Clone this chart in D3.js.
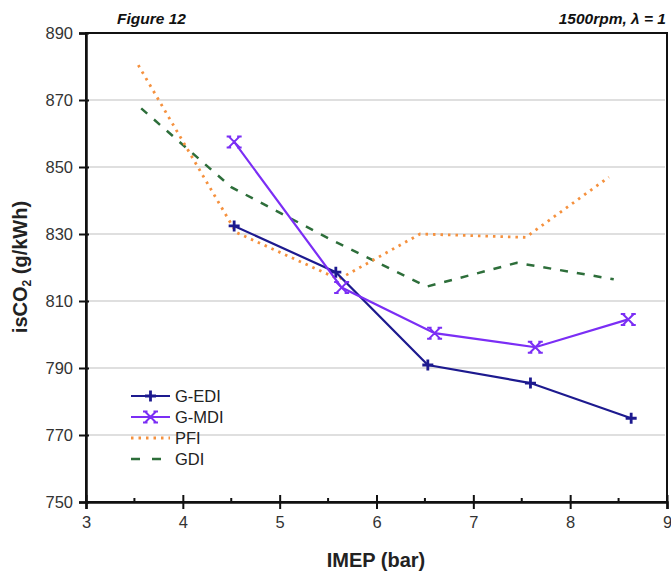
<!DOCTYPE html>
<html>
<head>
<meta charset="utf-8">
<script src="https://cdn.jsdelivr.net/npm/d3@7"></script>
<style>
  body { margin: 0; background: #fff; }
  svg text { font-family: Arial, "Liberation Sans", sans-serif; }
</style>
</head>
<body>
<div id="container"></div>
<script>
// data
const ediX = [4.53, 5.58, 6.53, 7.59, 8.63];
const ediY = [832.4, 818.6, 790.9, 785.5, 775.0];
const mdiX = [4.53, 5.64, 6.60, 7.64, 8.60];
const mdiY = [857.5, 814.0, 800.4, 796.2, 804.5];
const pfiX = [3.54, 4.55, 5.61, 6.45, 7.54, 8.40];
const pfiY = [880.4, 830.5, 816.5, 830.0, 829.0, 847.0];
const gdiX = [3.57, 4.50, 5.55, 6.52, 7.45, 8.45];
const gdiY = [867.5, 844.0, 828.0, 814.3, 821.4, 816.5];
const yTicks = [750, 770, 790, 810, 830, 850, 870, 890];
const xTicks = [3, 4, 5, 6, 7, 8, 9];
const xMinor = [3.5, 4.5, 5.5, 6.5, 7.5, 8.5];

const w = 671, h = 572;
const padLeft = 86, padRight = 667, padTop = 33, padBottom = 502;

const svg = d3.select('#container').append('svg')
    .attr('width', w)
    .attr('height', h);

const xScale = d3.scaleLinear().domain([3, 9]).range([padLeft, padRight]);
const yScale = d3.scaleLinear().domain([750, 890]).range([padBottom, padTop]);

// grid
svg.append('g')
    .selectAll('line')
    .data(yTicks.filter(d => d > 750 && d < 890))
    .enter()
    .append('line')
    .attr('x1', padLeft + 2)
    .attr('x2', padRight - 2)
    .attr('y1', d => yScale(d))
    .attr('y2', d => yScale(d))
    .attr('stroke', '#d4d4d4')
    .attr('stroke-width', 1.5);

// frame
svg.append('rect')
    .attr('x', padLeft)
    .attr('y', padTop)
    .attr('width', padRight - padLeft)
    .attr('height', padBottom - padTop)
    .attr('fill', 'none')
    .attr('stroke', '#111')
    .attr('stroke-width', 2);

// y axis
const yAxis = d3.axisLeft(yScale)
    .tickValues(yTicks)
    .tickSize(7)
    .tickPadding(6)
    .tickFormat(d => d);
const gy = svg.append('g')
    .attr('transform', `translate(${padLeft},0)`)
    .call(yAxis);
gy.select('.domain').attr('stroke', '#111').attr('stroke-width', 2.5);
gy.selectAll('.tick line').attr('stroke', '#111').attr('stroke-width', 2).attr('x2', -7).attr('x1', 3);
gy.selectAll('.tick text').attr('font-size', 16.5).attr('fill', '#333').attr('dy', '0.36em');

// x axis
const xAxis = d3.axisBottom(xScale)
    .tickValues(xTicks)
    .tickSize(7)
    .tickPadding(7)
    .tickFormat(d => d);
const gx = svg.append('g')
    .attr('transform', `translate(0,${padBottom})`)
    .call(xAxis);
gx.select('.domain').attr('stroke', '#111').attr('stroke-width', 2.5);
gx.selectAll('.tick line').attr('stroke', '#111').attr('stroke-width', 2).attr('y1', -7).attr('y2', 7);
gx.selectAll('.tick text').attr('font-size', 16.5).attr('fill', '#333');

svg.append('g')
    .selectAll('line')
    .data(xMinor)
    .enter()
    .append('line')
    .attr('x1', d => xScale(d))
    .attr('x2', d => xScale(d))
    .attr('y1', padBottom)
    .attr('y2', padBottom - 4)
    .attr('stroke', '#111')
    .attr('stroke-width', 2);

// series
const series = [
    { name: 'G-EDI', xs: ediX, ys: ediY, color: '#1d1a8f', width: 2.2, dash: null, marker: 'plus' },
    { name: 'G-MDI', xs: mdiX, ys: mdiY, color: '#7b2ef5', width: 2.2, dash: null, marker: 'cross' },
    { name: 'PFI', xs: pfiX, ys: pfiY, color: '#f5913e', width: 2.8, dash: '2.5,5', marker: null },
    { name: 'GDI', xs: gdiX, ys: gdiY, color: '#2d6e3a', width: 2.5, dash: '8,9', marker: null }
];

const line = d3.line()
    .x(d => xScale(d[0]))
    .y(d => yScale(d[1]));

const drawMarker = (g, type, x, y, color) => {
    const s = 5.5;
    if (type === 'plus') {
        g.append('path')
            .attr('d', `M${x - s},${y}H${x + s}M${x},${y - s}V${y + s}`)
            .attr('stroke', color).attr('stroke-width', 2.8).attr('fill', 'none');
    } else if (type === 'cross') {
        g.append('path')
            .attr('d', `M${x - s},${y - s}L${x + s},${y + s}M${x + s},${y - s}L${x - s},${y + s}` +
                `M${x - s - 2},${y - s}H${x - s + 2.5}M${x + s - 2.5},${y - s}H${x + s + 2}` +
                `M${x - s - 2},${y + s}H${x - s + 2.5}M${x + s - 2.5},${y + s}H${x + s + 2}`)
            .attr('stroke', color).attr('stroke-width', 2).attr('fill', 'none');
    }
};

// draw dashed lines first, then the solid ones on top
[series[3], series[2], series[0], series[1]].forEach(s => {
    const pts = s.xs.map((x, i) => [x, s.ys[i]]);
    svg.append('path')
        .datum(pts)
        .attr('d', line)
        .attr('fill', 'none')
        .attr('stroke', s.color)
        .attr('stroke-width', s.width)
        .attr('stroke-dasharray', s.dash);
    if (s.marker) {
        const g = svg.append('g');
        pts.forEach(p => drawMarker(g, s.marker, xScale(p[0]), yScale(p[1]), s.color));
    }
});

// legend
const legend = svg.append('g');
series.forEach((s, i) => {
    const ly = 396 + i * 21;
    legend.append('line')
        .attr('x1', 131).attr('x2', 170)
        .attr('y1', ly).attr('y2', ly)
        .attr('stroke', s.color)
        .attr('stroke-width', s.width)
        .attr('stroke-dasharray', s.name === 'GDI' ? '9,12' : s.dash);
    if (s.marker) drawMarker(legend, s.marker, 150.5, ly, s.color);
    legend.append('text')
        .attr('x', 175).attr('y', ly + 6)
        .attr('font-size', 16.5)
        .attr('fill', '#222')
        .text(s.name);
});

// titles
svg.append('text')
    .attr('x', 117).attr('y', 24)
    .attr('font-size', 15.5).attr('font-weight', 'bold').attr('font-style', 'italic')
    .attr('fill', '#111')
    .text('Figure 12');
svg.append('text')
    .attr('x', 666).attr('y', 24)
    .attr('text-anchor', 'end')
    .attr('font-size', 15.5).attr('font-weight', 'bold').attr('font-style', 'italic')
    .attr('fill', '#111')
    .text('1500rpm, λ = 1');

// axis labels
const yLabel = svg.append('text')
    .attr('transform', 'translate(27,267) rotate(-90)')
    .attr('text-anchor', 'middle')
    .attr('font-size', 20).attr('font-weight', 'bold').attr('fill', '#222');
yLabel.append('tspan').text('isCO');
yLabel.append('tspan').attr('font-size', 12).attr('dy', 4).text('2');
yLabel.append('tspan').attr('dy', -4).text(' (g/kWh)');

svg.append('text')
    .attr('x', 376).attr('y', 567)
    .attr('text-anchor', 'middle')
    .attr('font-size', 20).attr('font-weight', 'bold').attr('fill', '#222')
    .text('IMEP (bar)');
</script>
</body>
</html>
